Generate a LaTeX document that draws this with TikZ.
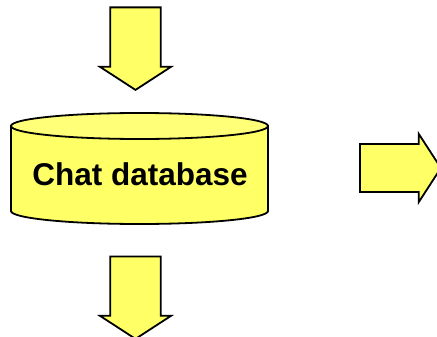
\documentclass[tikz,border=0pt]{standalone}
\usepackage{fontspec}
\setmainfont{Liberation Sans}
\usetikzlibrary{shapes.arrows}
\definecolor{dbyellow}{RGB}{255,255,102}
\definecolor{capyellow}{RGB}{255,255,120}

\begin{document}
\begin{tikzpicture}[
        x=1pt, y=-1pt,
        flowarrow/.style={single arrow, draw=black, fill=dbyellow, line width=1.8pt, inner sep=16.5pt, minimum width=71pt, single arrow tip angle=114, single arrow head indent=0pt, anchor=tail},
        dbline/.style={draw=black, line width=1.8pt},
        label/.style={font=\fontsize{31.5}{36}\selectfont\bfseries}
    ]
        \useasboundingbox (0,0) rectangle (437,337);
        \clip (0,0) rectangle (437,337);

        % Database cylinder
        \filldraw[dbline, fill=dbyellow] (11,126) -- (11,211) arc[start angle=180, end angle=0, x radius=128.5, y radius=13] -- (268,126) -- cycle;
        \filldraw[dbline, fill=capyellow] (139.5,126) ellipse[x radius=128.5, y radius=13];
        \node[label] (chatdb) at (140,174) {Chat database};

        % Block arrows
        \node[flowarrow, rotate=-90, minimum height=82.5pt] (inarrow) at (135.5,6.5) {};
        \node[flowarrow, rotate=-90, minimum height=82.5pt] (outarrow) at (135.5,255.5) {};
        \node[flowarrow, minimum width=68pt, inner sep=16pt, minimum height=81pt] (sidearrow) at (359,168) {};

    \end{tikzpicture}
\end{document}
